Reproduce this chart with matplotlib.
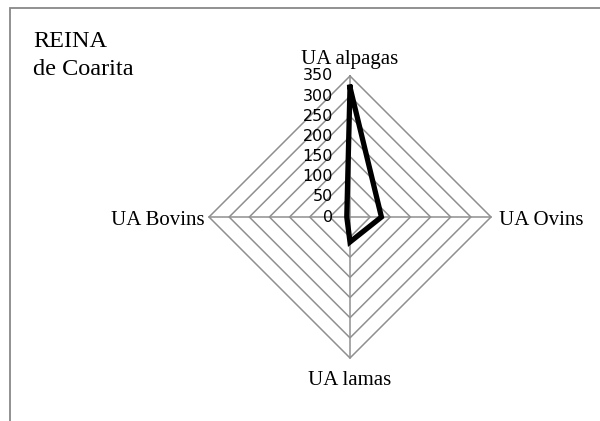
import numpy as np
import matplotlib
matplotlib.use("Agg")
import matplotlib.pyplot as plt
from matplotlib.patches import Rectangle

categories = ["UA alpagas", "UA Ovins", "UA lamas", "UA Bovins"]
values = [322, 78, 62, 8]
rticks = [0, 50, 100, 150, 200, 250, 300, 350]
title_lines = ["REINA", "de Coarita"]

W, H = 600, 421
PX = 72 / 100  # points per pixel
fig = plt.figure(figsize=(W / 100, H / 100), dpi=100)
cx, cy, R = 350, 217, 141
ax = fig.add_axes([(cx - R) / W, (H - cy - R) / H, 2 * R / W, 2 * R / H], polar=True)
ax.set_theta_offset(np.pi / 2)
ax.set_theta_direction(-1)
ax.set_ylim(0, max(rticks))
ax.grid(False)
ax.set_xticks([])
ax.set_yticks([])
ax.spines["polar"].set_visible(False)
ax.patch.set_visible(False)

n = len(categories)
theta = np.arange(n) * 2 * np.pi / n
theta_closed = np.append(theta, theta[0])

grid_col = "#8f8f8f"
for r in rticks[1:]:
    ax.plot(theta_closed, [r] * (n + 1), color=grid_col, lw=1.1, clip_on=False, zorder=1)
for t in theta:
    ax.plot([t, t], [0, max(rticks)], color=grid_col, lw=1.1, clip_on=False, zorder=1)

vals_closed = values + [values[0]]
ax.plot(theta_closed, vals_closed, color="black", lw=3.8, solid_joinstyle="miter", clip_on=False, zorder=3)

# radial tick labels along the top axis
for r in rticks:
    ax.annotate(str(r), xy=(0, r), xytext=(-17 * PX, 0), textcoords="offset points",
                ha="right", va="center", fontsize=11.5, family="DejaVu Sans", color="black")

serif = ["Liberation Serif", "DejaVu Serif"]
offsets = [((0, 12), "center"), ((8, -8), "left"), ((0, -27), "center"), ((-4, -8), "right")]
for t, lab, (off, ha) in zip(theta, categories, offsets):
    ax.annotate(lab, xy=(t, max(rticks)), xytext=(off[0] * PX, off[1] * PX), textcoords="offset points",
                ha=ha, va="baseline", fontsize=15, family=serif, color="black")

for i, line in enumerate(title_lines):
    fig.text(33 / W, 1 - (47 + 28 * i) / H, line, ha="left", va="baseline",
             fontsize=17.5, family=serif, color="black")

fig.add_artist(Rectangle((10 / W, -0.1), 1.0, (H - 8) / H + 0.1, transform=fig.transFigure,
                         fill=False, edgecolor="#888888", lw=1.3))

fig.savefig("out.png", dpi=100)
